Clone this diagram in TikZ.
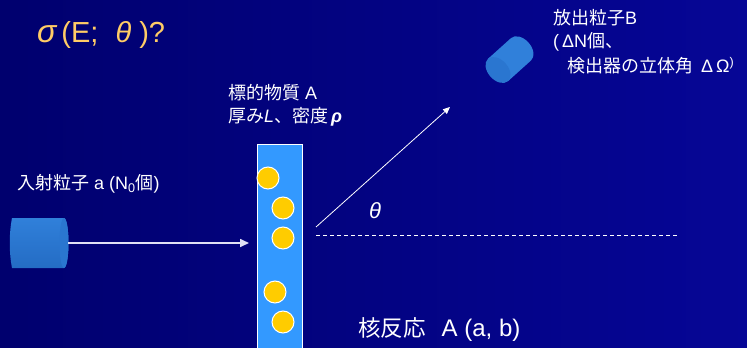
\documentclass[tikz,border=0pt]{standalone}
\usepackage{fontspec}
\setmainfont{Liberation Sans}
\newfontfamily\jp{Noto Sans CJK JP}
\usetikzlibrary{arrows.meta}
\definecolor{bgL}{RGB}{0,0,110}
\definecolor{bgR}{RGB}{6,6,150}
\definecolor{tgt}{RGB}{51,153,255}
\definecolor{atomc}{RGB}{255,204,0}
\definecolor{cylc}{RGB}{48,128,218}
\definecolor{cyld}{RGB}{36,108,196}
\definecolor{cylf}{RGB}{42,118,208}
\definecolor{ttl}{RGB}{255,204,102}
\definecolor{arw}{RGB}{225,225,245}
\begin{document}
\begin{tikzpicture}[x=1pt,y=-1pt,
  txt/.style={text=white,inner sep=0pt,anchor=west,font=\fontsize{18}{21}\selectfont},
  atom/.style={circle,fill=atomc,draw=white,line width=1pt,minimum size=22pt,inner sep=0pt},
  beam/.style={draw=arw,line width=1.6pt,-{Triangle[length=9pt,width=8pt]}},
  ray/.style={draw=white,line width=0.8pt,-{Triangle[length=7pt,width=6pt]}},
  axisline/.style={draw=white,line width=0.8pt,dash pattern=on 4pt off 3pt}]
\useasboundingbox (0,0) rectangle (747,348);
\shade[left color=bgL,right color=bgR] (0,0) rectangle (747,348);

% title
\node[txt,text=ttl,font=\fontsize{29}{32}\selectfont] (title) at (37,35)
  {{\fontsize{32}{32}\selectfont\textit{σ}}\hspace{4pt}(E;\hspace{17pt}\textit{θ}\hspace{8pt})?};

% target label
\node[txt] (tl1) at (228,93) {{\jp 標的物質} A};
\node[txt] (tl2) at (228,117) {{\jp 厚み}\textit{L}{\jp 、密度}\,\textbf{\textit{ρ}}};

% target
\draw[white,line width=1pt,fill=tgt] (257,144) rectangle (302,356);
\node[atom] (a1) at (268,178) {};
\node[atom] (a2) at (283,208) {};
\node[atom] (a3) at (283,238) {};
\node[atom] (a4) at (275,292) {};
\node[atom] (a5) at (283,322) {};

% incident label
\node[txt] (inc) at (17,184) {{\jp 入射粒子} a (N\textsubscript{0}{\jp 個})};

% incident cylinder
\shade[top color=cylc,bottom color=cyld] (12,218) -- (64,218) arc[start angle=-90,end angle=90,x radius=4.5,y radius=25] -- (12,268) .. controls (9,252) and (9,234) .. (12,218) -- cycle;
\fill[cylf] (64,243) ellipse[x radius=4.5,y radius=25];
\coordinate (src) at (68,243);
\coordinate (hit) at (249,243);
\draw[beam] (src) -- (hit);

% scattered ray and axis
\coordinate (o) at (316,227);
\coordinate (out) at (450,107);
\draw[ray] (o) -- (out);
\coordinate (d0) at (316,235);
\coordinate (d1) at (678,235);
\draw[axisline] (d0) -- (d1);
\node[txt,font=\fontsize{22}{24}\selectfont] (th) at (369,211) {\textit{θ}};

% detector
\begin{scope}[shift={(498,70)},rotate=42]
  \fill[cylc] (0,-15) -- (31,-15) arc[start angle=-90,end angle=90,x radius=10,y radius=15] -- (0,15) -- cycle;
  \fill[cylf] (0,0) ellipse[x radius=10,y radius=15];
\end{scope}

% detector label
\node[txt] (b1) at (553,18) {{\jp 放出粒子}B};
\node[txt] (b2) at (553,42) {(\hspace{3pt}ΔN{\jp 個、}};
\node[txt] (b3) at (567,66) {{\jp 検出器の立体角}\hspace{8pt}Δ\hspace{3pt}Ω\textsuperscript{)}};

% reaction
\node[txt,font=\fontsize{24}{26}\selectfont] (rx) at (358,330) {{\jp\fontsize{22.5}{26}\selectfont 核反応}\hspace{16pt}A (a, b)};
\end{tikzpicture}
\end{document}
